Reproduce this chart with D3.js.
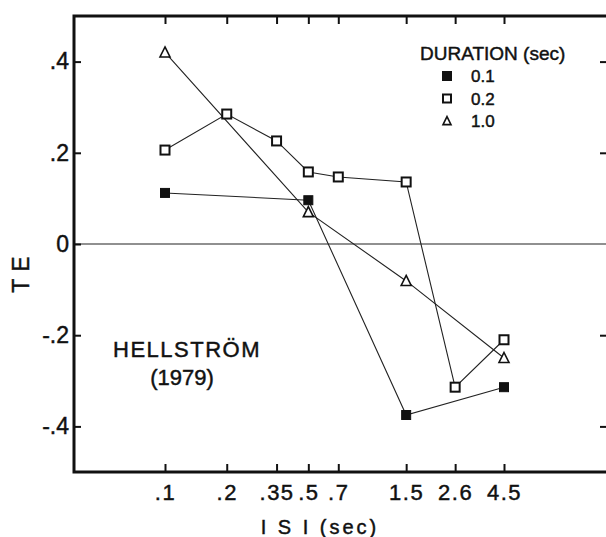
<!DOCTYPE html>
<html>
<head>
<meta charset="utf-8">
<script src="https://cdn.jsdelivr.net/npm/d3@7"></script>
<style>
  body { margin: 0; background: #fff; }
  text { font-family: "Liberation Sans", Arial, sans-serif; fill: #111; stroke: #111; stroke-width: 0.45px; }
</style>
</head>
<body>
<svg id="chart"></svg>
<script>
// ISI tick values and their printed labels
var isiTicks = [0.1, 0.2, 0.35, 0.5, 0.7, 1.5, 2.6, 4.5];
var isiLabels = [".1", ".2", ".35", ".5", ".7", "1.5", "2.6", "4.5"];
var teTicks = [0.4, 0.2, 0, -0.2, -0.4];
var teLabels = [".4", ".2", "0", "-.2", "-.4"];

// duration 0.1 sec (filled squares)
var isiDur01 = [0.1, 0.5, 1.5, 4.5];
var teDur01 = [0.112, 0.096, -0.375, -0.314];
// duration 0.2 sec (open squares)
var isiDur02 = [0.1, 0.2, 0.35, 0.5, 0.7, 1.5, 2.6, 4.5];
var teDur02 = [0.206, 0.285, 0.226, 0.158, 0.147, 0.136, -0.314, -0.21];
// duration 1.0 sec (open triangles)
var isiDur10 = [0.1, 0.5, 1.5, 4.5];
var teDur10 = [0.42, 0.07, -0.081, -0.25];

var durations = ["0.1", "0.2", "1.0"];

var screen = { width: 606, height: 537 };
var frame = { left: 74, top: 16, right: 609, bottom: 472 };

var svg = d3.select("#chart")
  .attr("width", screen.width)
  .attr("height", screen.height);

svg.append("rect")
  .attr("width", screen.width)
  .attr("height", screen.height)
  .attr("fill", "#fff");

var xScale = d3.scaleLog().domain([0.1, 4.5]).range([165, 504]);
var yScale = d3.scaleLinear().domain([-0.5, 0.5]).range([frame.bottom, frame.top]);

// zero line
svg.append("line")
  .attr("x1", frame.left).attr("x2", frame.right)
  .attr("y1", yScale(0)).attr("y2", yScale(0))
  .attr("stroke", "#222").attr("stroke-width", 1.2);

// bottom axis with inward ticks
var xAxis = d3.axisBottom(xScale)
  .tickValues(isiTicks)
  .tickFormat(function (d, i) { return isiLabels[i]; })
  .tickSizeInner(-8).tickSizeOuter(0).tickPadding(12);

var xg = svg.append("g")
  .attr("transform", "translate(0," + frame.bottom + ")")
  .call(xAxis);
xg.select(".domain").remove();
xg.selectAll("line").attr("stroke", "#111").attr("stroke-width", 2);
xg.selectAll("text")
  .attr("font-family", "Liberation Sans, Arial, sans-serif")
  .attr("font-size", 22)
  .attr("letter-spacing", 1.5)
  .attr("fill", "#111");

// top ticks
var xTop = d3.axisTop(xScale)
  .tickValues(isiTicks)
  .tickFormat("")
  .tickSizeInner(-8).tickSizeOuter(0);
var xt = svg.append("g")
  .attr("transform", "translate(0," + frame.top + ")")
  .call(xTop);
xt.select(".domain").remove();
xt.selectAll("line").attr("stroke", "#111").attr("stroke-width", 2);

// left axis
var yAxis = d3.axisLeft(yScale)
  .tickValues(teTicks)
  .tickFormat(function (d, i) { return teLabels[i]; })
  .tickSizeInner(-7).tickSizeOuter(0).tickPadding(5);
var yg = svg.append("g")
  .attr("transform", "translate(" + frame.left + ",0)")
  .call(yAxis);
yg.select(".domain").remove();
yg.selectAll("line").attr("stroke", "#111").attr("stroke-width", 2);
yg.selectAll("text")
  .attr("font-family", "Liberation Sans, Arial, sans-serif")
  .attr("font-size", 23)
  .attr("fill", "#111");

// right ticks
var yRight = d3.axisRight(yScale)
  .tickValues(teTicks.filter(function (d) { return d !== 0; }))
  .tickFormat("")
  .tickSizeInner(-9).tickSizeOuter(0);
var yr = svg.append("g")
  .attr("transform", "translate(" + frame.right + ",0)")
  .call(yRight);
yr.select(".domain").remove();
yr.selectAll("line").attr("stroke", "#111").attr("stroke-width", 2);

// frame
svg.append("rect")
  .attr("x", frame.left).attr("y", frame.top)
  .attr("width", frame.right - frame.left)
  .attr("height", frame.bottom - frame.top)
  .attr("fill", "none")
  .attr("stroke", "#111")
  .attr("stroke-width", 3);

// series
var series = [
  { isi: isiDur01, te: teDur01, shape: "filled" },
  { isi: isiDur02, te: teDur02, shape: "square" },
  { isi: isiDur10, te: teDur10, shape: "triangle" }
];

var line = d3.line()
  .x(function (d) { return xScale(d[0]); })
  .y(function (d) { return yScale(d[1]); });

series.forEach(function (s) {
  var pts = s.isi.map(function (x, i) { return [x, s.te[i]]; });
  svg.append("path")
    .attr("d", line(pts))
    .attr("fill", "none")
    .attr("stroke", "#222")
    .attr("stroke-width", 1.1);
});

var drawMarker = function (g, shape, cx, cy, size) {
  if (shape === "triangle") {
    var h = size;
    g.append("path")
      .attr("d", "M" + cx + "," + (cy - h * 0.55) +
        "L" + (cx + h * 0.5) + "," + (cy + h * 0.45) +
        "L" + (cx - h * 0.5) + "," + (cy + h * 0.45) + "Z")
      .attr("fill", "#fff")
      .attr("stroke", "#111")
      .attr("stroke-width", 1.6)
      .attr("stroke-linejoin", "miter");
  } else {
    g.append("rect")
      .attr("x", cx - size / 2).attr("y", cy - size / 2)
      .attr("width", size).attr("height", size)
      .attr("fill", shape === "filled" ? "#111" : "#fff")
      .attr("stroke", "#111")
      .attr("stroke-width", shape === "filled" ? 1 : 2);
  }
};

var marks = svg.append("g");
series.forEach(function (s) {
  s.isi.forEach(function (x, i) {
    drawMarker(marks, s.shape, xScale(x), yScale(s.te[i]), s.shape === "triangle" ? 10 : 9);
  });
});

// legend
var legend = svg.append("g");
legend.append("text")
  .attr("x", 420).attr("y", 60)
  .attr("font-size", 19)
  .text("DURATION (sec)");

var legendShapes = ["filled", "square", "triangle"];
durations.forEach(function (d, i) {
  var cy = 76 + i * 22.5;
  drawMarker(legend, legendShapes[i], 447, cy, i === 0 ? 9 : 8);
  legend.append("text")
    .attr("x", 471).attr("y", cy + 6)
    .attr("font-size", 17)
    .text(d);
});

// annotation
svg.append("text")
  .attr("x", 187).attr("y", 357)
  .attr("text-anchor", "middle")
  .attr("font-size", 22)
  .attr("letter-spacing", 1.5)
  .text("HELLSTRÖM");
svg.append("text")
  .attr("x", 182).attr("y", 385)
  .attr("text-anchor", "middle")
  .attr("font-size", 22)
  .text("(1979)");

// axis titles
svg.append("text")
  .attr("transform", "translate(29,271) rotate(-90)")
  .attr("text-anchor", "middle")
  .attr("font-size", 23)
  .attr("letter-spacing", 7)
  .text("TE");

svg.append("text")
  .attr("x", 320).attr("y", 534)
  .attr("text-anchor", "middle")
  .attr("font-size", 20)
  .attr("letter-spacing", 3)
  .text("I S I  (sec)");
</script>
</body>
</html>
